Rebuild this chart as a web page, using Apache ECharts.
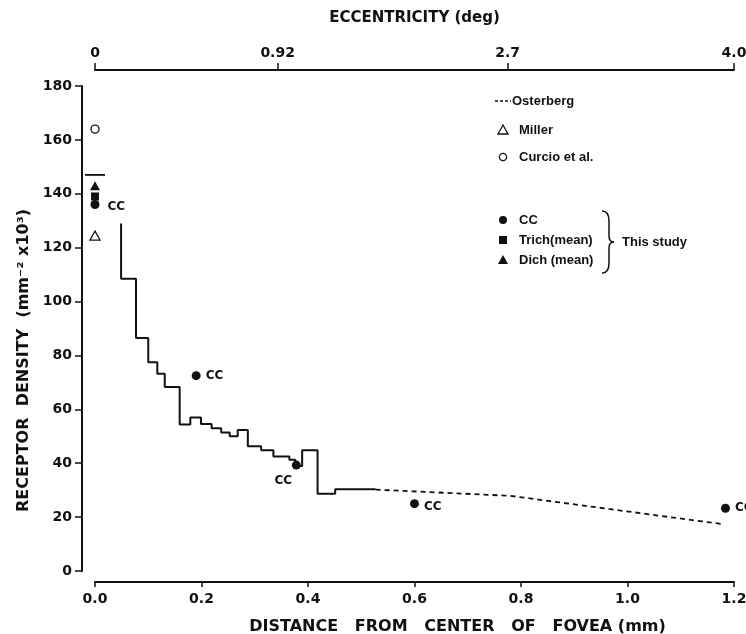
<!DOCTYPE html>
<html>
<head>
<meta charset="utf-8">
<script src="https://cdn.jsdelivr.net/npm/echarts@6/dist/echarts.min.js"></script>
<style>html,body{margin:0;padding:0;background:#fff}#c{width:746px;height:634px}</style>
</head>
<body>
<div id="c"></div>
<script>
// ---- data ----
var stepX = [0.049, 0.049, 0.077, 0.100, 0.117, 0.131, 0.159, 0.179, 0.199, 0.219, 0.237, 0.253, 0.268, 0.287, 0.312, 0.335, 0.365, 0.376, 0.389, 0.418, 0.451, 0.527];
var stepY = [129, 108.5, 86.5, 77.5, 73.2, 68.3, 54.4, 57, 54.6, 53, 51.4, 50, 52.3, 46.3, 44.8, 42.5, 41.3, 39, 44.8, 28.7, 30.3, 30.3];
var osterX = [0.527, 0.78, 1.182];
var osterY = [30.2, 27.9, 17.3];
var osterFovealX = [0];
var osterFovealY = [147];
var ccX = [0, 0.19, 0.378, 0.6, 1.184];
var ccY = [136, 72.5, 39.3, 25, 23.3];
var trichX = [0], trichY = [139];
var dichX = [0], dichY = [143];
var millerX = [0], millerY = [124.5];
var curcioX = [0], curcioY = [164];
var topTickMm = [0, 0.343, 0.775, 1.2];
var topTickLabels = ['0', '0.92', '2.7', '4.0'];
var legendLabels = ['Osterberg', 'Miller', 'Curcio et al.', 'CC', 'Trich(mean)', 'Dich (mean)'];
var braceLabel = 'This study';

function pairs(xs, ys) { return xs.map(function (x, i) { return [x, ys[i]]; }); }

var FONT = 'DejaVu Sans';
var LFONT = 'Liberation Sans';
var INK = '#111';

var chart = echarts.init(document.getElementById('c'), null, {renderer: 'canvas'});

// legend layout (styling only)
var lgX = 503, lgTx = 519;
var lgY = [101, 130, 157, 220, 240, 260];
var graphic = [];
var lineSt = {stroke: INK, lineWidth: 1.5, fill: null};
graphic.push({type: 'line', shape: {x1: lgX - 8, y1: lgY[0], x2: lgX + 8, y2: lgY[0]}, style: {stroke: INK, lineWidth: 1.5, lineDash: [3, 2]}});
graphic.push({type: 'polygon', shape: {points: [[lgX, lgY[1] - 5], [lgX - 5, lgY[1] + 4], [lgX + 5, lgY[1] + 4]]}, style: {fill: '#fff', stroke: INK, lineWidth: 1.3}});
graphic.push({type: 'circle', shape: {cx: lgX, cy: lgY[2], r: 3.6}, style: {fill: '#fff', stroke: INK, lineWidth: 1.3}});
graphic.push({type: 'circle', shape: {cx: lgX, cy: lgY[3], r: 4}, style: {fill: INK}});
graphic.push({type: 'rect', shape: {x: lgX - 4, y: lgY[4] - 4, width: 8, height: 8}, style: {fill: INK}});
graphic.push({type: 'polygon', shape: {points: [[lgX, lgY[5] - 5], [lgX - 5, lgY[5] + 4], [lgX + 5, lgY[5] + 4]]}, style: {fill: INK}});
legendLabels.forEach(function (t, i) {
  graphic.push({type: 'text', x: (i === 0 ? lgX + 9 : lgTx), y: lgY[i], style: {text: t, fill: INK, font: 'bold 13px "' + LFONT + '"', textVerticalAlign: 'middle'}});
});
// brace
var bx = 602, bTop = 211, bMid = 242, bBot = 273;
graphic.push({type: 'bezierCurve', shape: {x1: bx, y1: bTop, cpx1: bx + 7, cpy1: bTop, x2: bx + 7, y2: bTop + 10}, style: lineSt});
graphic.push({type: 'line', shape: {x1: bx + 7, y1: bTop + 10, x2: bx + 7, y2: bMid - 6}, style: lineSt});
graphic.push({type: 'bezierCurve', shape: {x1: bx + 7, y1: bMid - 6, cpx1: bx + 7, cpy1: bMid, x2: bx + 12, y2: bMid}, style: lineSt});
graphic.push({type: 'bezierCurve', shape: {x1: bx + 12, y1: bMid, cpx1: bx + 7, cpy1: bMid, x2: bx + 7, y2: bMid + 6}, style: lineSt});
graphic.push({type: 'line', shape: {x1: bx + 7, y1: bMid + 6, x2: bx + 7, y2: bBot - 10}, style: lineSt});
graphic.push({type: 'bezierCurve', shape: {x1: bx + 7, y1: bBot - 10, cpx1: bx + 7, cpy1: bBot, x2: bx, y2: bBot}, style: lineSt});
graphic.push({type: 'text', x: 622, y: 242, style: {text: braceLabel, fill: INK, font: 'bold 13px "' + LFONT + '"', textVerticalAlign: 'middle'}});

var labelStyle = {fontFamily: FONT, fontWeight: 'bold', fontSize: 14, color: INK};

chart.setOption({
  animation: false,
  backgroundColor: '#fff',
  graphic: graphic,
  grid: {left: 95, right: 12, top: 86, bottom: 63, containLabel: false, outerBoundsMode: 'none'},
  xAxis: [{
    type: 'value', min: 0, max: 1.2, interval: 0.2, position: 'bottom', offset: 11,
    axisLine: {onZero: false, lineStyle: {color: INK, width: 2}},
    axisTick: {length: 5, lineStyle: {color: INK, width: 1.5}},
    axisLabel: Object.assign({margin: 10, formatter: function (v) { return v.toFixed(1); }}, labelStyle),
    splitLine: {show: false},
    name: 'DISTANCE   FROM   CENTER   OF   FOVEA (mm)', nameLocation: 'middle', nameGap: 37,
    nameTextStyle: {fontFamily: FONT, fontWeight: 'bold', fontSize: 16, color: INK, padding: [0, 0, 0, 86]}
  }, {
    type: 'value', min: 0, max: 1.2, position: 'top', offset: 16,
    axisLine: {onZero: false, lineStyle: {color: INK, width: 2}},
    axisTick: {length: 7, customValues: topTickMm, lineStyle: {color: INK, width: 1.5}},
    axisLabel: Object.assign({margin: 10, customValues: topTickMm, formatter: function (v) {
      var i = topTickMm.indexOf(v); return i >= 0 ? topTickLabels[i] : '';
    }}, labelStyle),
    splitLine: {show: false},
    name: 'ECCENTRICITY (deg)', nameLocation: 'middle', nameGap: 44,
    nameTextStyle: {fontFamily: FONT, fontWeight: 'bold', fontSize: 15, color: INK}
  }],
  yAxis: {
    type: 'value', min: 0, max: 180, interval: 20, offset: 13,
    axisLine: {show: true, onZero: false, lineStyle: {color: INK, width: 2}},
    axisTick: {show: true, length: 7, lineStyle: {color: INK, width: 1.5}},
    axisLabel: Object.assign({margin: 10}, labelStyle),
    splitLine: {show: false},
    name: 'RECEPTOR  DENSITY  (mm\u207B\u00B2 x10\u00B3)', nameLocation: 'middle', nameGap: 38, nameRotate: 90,
    nameTextStyle: {fontFamily: FONT, fontWeight: 'bold', fontSize: 16, color: INK, padding: [0, 64, 0, 0]}
  },
  series: [
    {name: 'This study', type: 'line', step: 'end', data: pairs(stepX, stepY), symbol: 'none',
     lineStyle: {color: INK, width: 2}, clip: false},
    {name: 'Osterberg', type: 'line', data: pairs(osterX, osterY), symbol: 'none',
     lineStyle: {color: INK, width: 1.8, type: [5, 4]}, clip: false},
    {name: 'Osterberg fovea', type: 'scatter', data: pairs(osterFovealX, osterFovealY), symbol: 'rect', symbolSize: [20, 1.8],
     itemStyle: {color: INK, opacity: 1}, clip: false},
    {name: 'Curcio et al.', type: 'scatter', data: pairs(curcioX, curcioY), symbol: 'circle', symbolSize: 8,
     itemStyle: {color: '#fff', borderColor: INK, borderWidth: 1.3, opacity: 1}, clip: false},
    {name: 'Miller', type: 'scatter', data: pairs(millerX, millerY), symbol: 'triangle', symbolSize: [10, 9],
     itemStyle: {color: '#fff', borderColor: INK, borderWidth: 1.3, opacity: 1}, clip: false},
    {name: 'Dich (mean)', type: 'scatter', data: pairs(dichX, dichY), symbol: 'triangle', symbolSize: [10, 9],
     itemStyle: {color: INK, opacity: 1}, clip: false},
    {name: 'Trich(mean)', type: 'scatter', data: pairs(trichX, trichY), symbol: 'rect', symbolSize: 8,
     itemStyle: {color: INK, opacity: 1}, clip: false},
    {name: 'CC', type: 'scatter', data: pairs(ccX, ccY).map(function (p, i) {
       var lab = {show: true, formatter: 'CC', position: 'right', distance: 5};
       if (i === 2) { lab = {show: true, formatter: 'CC', position: 'bottom', distance: 5, offset: [-13, 0]}; }
       if (i === 0) { lab.distance = 8; lab.offset = [0, 2]; }
       if (i === 3) { lab.offset = [0, 3]; }
       return {value: p, label: lab};
     }), symbol: 'circle', symbolSize: 9,
     itemStyle: {color: INK, opacity: 1}, clip: false,
     label: {fontFamily: FONT, fontWeight: 'bold', fontSize: 12, color: INK}}
  ]
});
</script>
</body>
</html>
